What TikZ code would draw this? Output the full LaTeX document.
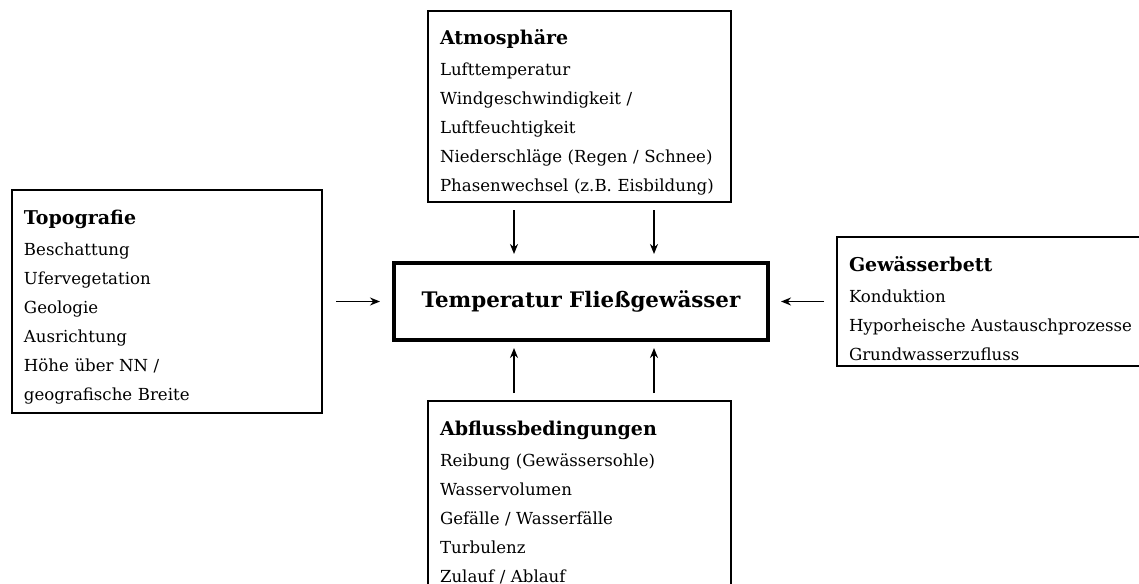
\documentclass[tikz,border=0pt]{standalone}
\usepackage{fontspec}
\setmainfont{DejaVu Serif}
\usetikzlibrary{arrows.meta}

\tikzset{
  infobox/.style={draw, line width=1pt, outer sep=0pt, anchor=north west, align=left,
    inner xsep=6pt, inner ysep=0pt, font=\fontsize{8.3}{14.5}\selectfont},
  mainbox/.style={draw, line width=2pt, outer sep=0pt, minimum width=187pt,
    minimum height=38.5pt, font=\fontsize{10.7}{13}\selectfont\bfseries},
}
\newcommand{\boxhead}[1]{\rule{0pt}{17pt}{\fontsize{9.5}{14.5}\selectfont\bfseries #1}\\[1pt]}
\newcommand{\boxend}[1]{\rule[-#1]{0pt}{#1}}

\begin{document}
\begin{tikzpicture}[x=0.5pt, y=-0.5pt, >={Stealth[length=5pt,width=4pt]}, line width=0.9pt]
  \useasboundingbox (0,0) rectangle (1139,583);
  \clip (0,0) rectangle (1139,583);
  % Mitte
  \node[mainbox] (temp) at (581,301.5) {Temperatur Fließgewässer};
  % Einflussfaktoren
  \node[infobox, text width=139.5pt] (atmo) at (428,11) {\boxhead{Atmosphäre}Lufttemperatur\\
    Windgeschwindigkeit /\\ Luftfeuchtigkeit\\ \mbox{Niederschläge (Regen / Schnee)}\\
    \mbox{Phasenwechsel (z.B. Eisbildung)}\boxend{5pt}};
  \node[infobox, text width=143pt] (topo) at (12,190) {\boxhead{Topografie}Beschattung\\
    Ufervegetation\\ Geologie\\ Ausrichtung\\ Höhe über NN /\\ geografische Breite\boxend{6.5pt}};
  \node[infobox, text width=160pt] (bett) at (837,237) {\boxhead{Gewässerbett}Konduktion\\
    \mbox{Hyporheische Austauschprozesse}\\ Grundwasserzufluss\boxend{3pt}};
  \node[infobox, text width=139.5pt] (abfluss) at (428,401) {\boxhead{Abflussbedingungen}\mbox{Reibung (Gewässersohle)}\\
    Wasservolumen\\ Gefälle / Wasserfälle\\ Turbulenz\\ Zulauf / Ablauf\boxend{6pt}};

  \coordinate (a1) at ([xshift=43pt]atmo.south west);
  \coordinate (a2) at ([xshift=113pt]atmo.south west);
  \coordinate (b1) at ([xshift=43pt]abfluss.north west);
  \coordinate (b2) at ([xshift=113pt]abfluss.north west);

  \draw[->, shorten <=4pt, shorten >=4.5pt] (a1) -- (a1 |- temp.north);
  \draw[->, shorten <=4pt, shorten >=4.5pt] (a2) -- (a2 |- temp.north);
  \draw[->, shorten <=4pt, shorten >=4pt] (b1) -- (b1 |- temp.south);
  \draw[->, shorten <=4pt, shorten >=4pt] (b2) -- (b2 |- temp.south);
  \draw[->, shorten <=7pt, shorten >=7pt] (topo.east) -- (topo.east -| temp.west);
  \draw[->, shorten <=6.5pt, shorten >=6.5pt] (bett.west) -- (bett.west -| temp.east);
\end{tikzpicture}
\end{document}
